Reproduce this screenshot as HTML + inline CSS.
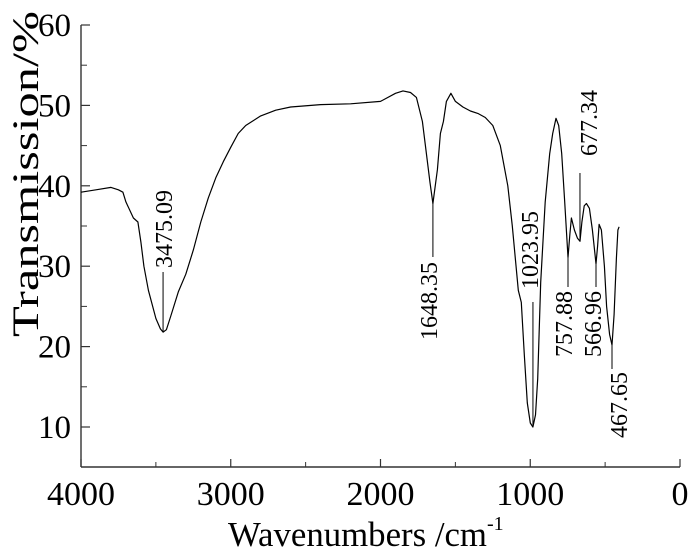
<!DOCTYPE html>
<html><head><meta charset="utf-8"><style>
body{margin:0;background:#fff}
svg{display:block}
text{font-family:"Liberation Serif",serif;fill:#000}
</style></head><body>
<svg id="chart" width="700" height="559" viewBox="0 0 700 559"></svg>
<script>
const xTicks=[4000,3000,2000,1000,0];
const xMinor=[3500,2500,1500,500];
const yTicks=[10,20,30,40,50,60];
const yMinor=[15,25,35,45,55];
const wavenumbers=[4000,3900,3800,3750,3720,3700,3650,3620,3600,3580,3550,3500,3470,3452,3430,3400,3350,3300,3250,3200,3150,3100,3050,3000,2950,2900,2800,2700,2600,2400,2200,2000,1900,1850,1800,1760,1720,1700,1670,1650,1620,1600,1580,1560,1530,1500,1450,1400,1350,1300,1250,1200,1150,1120,1100,1080,1060,1040,1020,1000,982,965,950,930,900,870,850,828,810,790,770,748,735,725,705,685,668,655,640,625,605,585,561,550,540,525,505,490,470,454,440,425,415,407];
const transmission=[39.2,39.5,39.8,39.5,39.2,38,36,35.5,33,30,27,23.5,22.2,21.8,22.1,23.8,26.8,29,32,35.5,38.5,41,43,44.8,46.5,47.5,48.7,49.4,49.8,50.1,50.2,50.5,51.5,51.8,51.6,51,48,45,40.5,37.8,42,46.5,48,50.5,51.5,50.5,49.8,49.3,49,48.5,47.5,45,40,35,31,27,25.5,19,13,10.5,10,11.5,16,28,38,44,46.5,48.4,47.5,44,38,31.1,34,36,34.5,33.5,33.1,35.5,37.5,37.8,37.2,34.5,30.3,32.5,35.2,34.5,30,25,21.5,20.2,24,31,34.5,34.9];
const peakLabels=["3475.09","1648.35","1023.95","757.88","677.34","566.96","467.65"];
const peakWn=[3452,1650,982,748,668,561,454];
const peakT=[21.8,37.8,10,31.1,33.1,30.3,20.2];

const svg=document.getElementById('chart');
const NS='http://www.w3.org/2000/svg';
const X0=81,X1=680,Y0=467;
const xs=w=>X0+(4000-w)/4000*(X1-X0);
const ys=t=>25+(60-t)*8.04;
function mk(tag,attrs,parent){const e=document.createElementNS(NS,tag);for(const k in attrs)e.setAttribute(k,attrs[k]);(parent||svg).appendChild(e);return e;}

let e=mk('line',{x1:X0,y1:ys(60),x2:X0,y2:Y0,stroke:'#333','stroke-width':1.4});


e=mk('line',{x1:X0,y1:Y0,x2:X1,y2:Y0,stroke:'#333','stroke-width':1.4});



yTicks.forEach(t=>{
  const l=mk('line',{x1:X0,x2:X0+9,y1:ys(t),y2:ys(t),stroke:'#333','stroke-width':1.2});
  
  
  const tx=mk('text',{x:71,y:ys(t)+11,'text-anchor':'end','font-size':33});
  tx.textContent=t;
  
  
});
yMinor.forEach(t=>{
  const l=mk('line',{x1:X0,x2:X0+6,y1:ys(t),y2:ys(t),stroke:'#333','stroke-width':1});
  
  
});
xTicks.forEach(w=>{
  const l=mk('line',{x1:xs(w),x2:xs(w),y1:Y0,y2:Y0-8,stroke:'#333','stroke-width':1.2});
  
  
  const tx=mk('text',{x:xs(w),y:505,'text-anchor':'middle','font-size':34});
  tx.textContent=w;
  
  
});
xMinor.forEach(w=>{
  const l=mk('line',{x1:xs(w),x2:xs(w),y1:Y0,y2:Y0-5,stroke:'#333','stroke-width':1});
  
  
});

let d='';
wavenumbers.forEach((w,i)=>{d+=(i?'L':'M')+xs(w).toFixed(1)+','+ys(transmission[i]).toFixed(1);});
e=mk('path',{d:d,fill:'none',stroke:'#000','stroke-width':1.2,'stroke-linejoin':'round'});



function annot(i,lineA,lineB,textX,textY,anchor){
  const x=xs(peakWn[i]);
  const l=mk('line',{x1:x,x2:x,y1:lineA,y2:lineB,stroke:'#000','stroke-width':1});
  
  
  const t=mk('text',{x:0,y:0,'font-size':24,'text-anchor':anchor,transform:`translate(${textX},${textY}) rotate(-90)`});
  t.textContent=peakLabels[i];
  
  
}
annot(0,272,ys(peakT[0]),172,268,'start');
annot(1,ys(peakT[1]),257,437,262,'end');
annot(2,302,ys(peakT[2])-2,538,289,'start');
annot(3,ys(peakT[3]),287,572,291,'end');
annot(4,173,ys(peakT[4]),597,156,'start');
annot(5,ys(peakT[5]),287,601,291,'end');
annot(6,ys(peakT[6]),369,627,372,'end');

e=mk('text',{x:0,y:0,'font-size':37,'text-anchor':'middle',textLength:326,lengthAdjust:'spacingAndGlyphs',transform:'translate(38,174) rotate(-90)'});
e.textContent='Transmission/%';


e=mk('text',{x:228,y:546,'font-size':35});
e.innerHTML='<tspan textLength="259" lengthAdjust="spacingAndGlyphs">Wavenumbers /cm</tspan><tspan dy="-16" font-size="20">-1</tspan>';


</script>
</body></html>
